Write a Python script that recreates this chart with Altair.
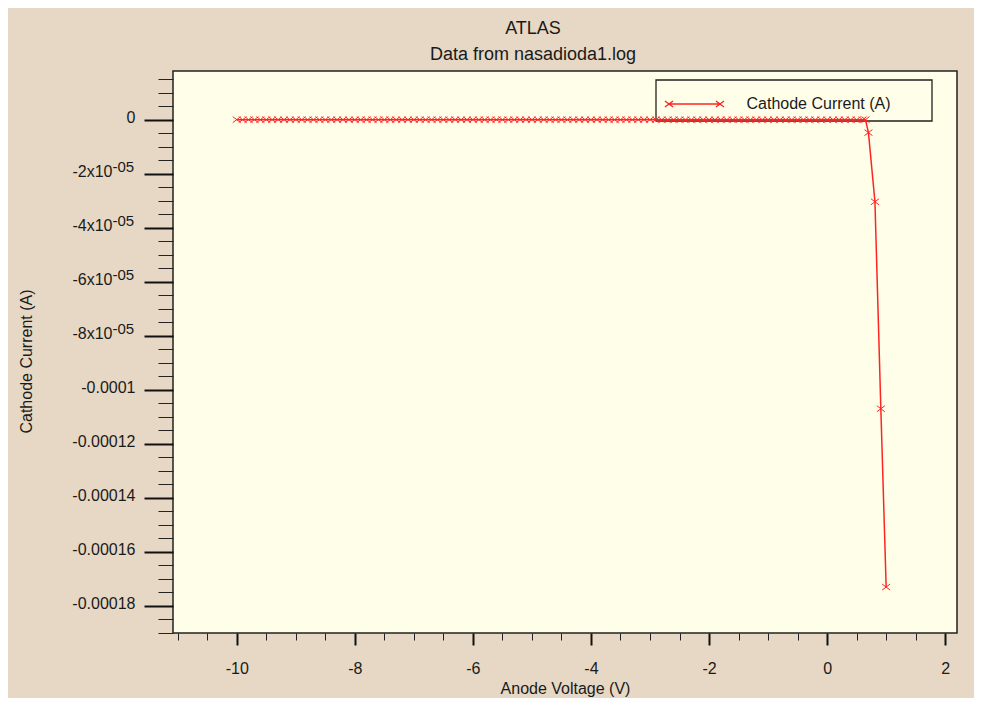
import altair as alt
import pandas as pd

# ---- data ----
voltage_flat = [
    -10.0, -9.9, -9.8, -9.7, -9.6, -9.5, -9.4, -9.3, -9.2, -9.1,
    -9.0, -8.9, -8.8, -8.7, -8.6, -8.5, -8.4, -8.3, -8.2, -8.1,
    -8.0, -7.9, -7.8, -7.7, -7.6, -7.5, -7.4, -7.3, -7.2, -7.1,
    -7.0, -6.9, -6.8, -6.7, -6.6, -6.5, -6.4, -6.3, -6.2, -6.1,
    -6.0, -5.9, -5.8, -5.7, -5.6, -5.5, -5.4, -5.3, -5.2, -5.1,
    -5.0, -4.9, -4.8, -4.7, -4.6, -4.5, -4.4, -4.3, -4.2, -4.1,
    -4.0, -3.9, -3.8, -3.7, -3.6, -3.5, -3.4, -3.3, -3.2, -3.1,
    -3.0, -2.9, -2.8, -2.7, -2.6, -2.5, -2.4, -2.3, -2.2, -2.1,
    -2.0, -1.9, -1.8, -1.7, -1.6, -1.5, -1.4, -1.3, -1.2, -1.1,
    -1.0, -0.9, -0.8, -0.7, -0.6, -0.5, -0.4, -0.3, -0.2, -0.1,
    0.0, 0.1, 0.2, 0.3, 0.4, 0.5, 0.6, 0.65,
]
current_flat = [0.0] * len(voltage_flat)

voltage_knee = [0.7, 0.81, 0.91, 1.0]
current_knee = [-4.8e-06, -3.04e-05, -1.07e-04, -1.73e-04]

series_name = "Cathode Current (A)"

x_major = [-10, -8, -6, -4, -2, 0, 2]
x_major_labels = ["-10", "-8", "-6", "-4", "-2", "0", "2"]
y_major = [0.0, -2e-05, -4e-05, -6e-05, -8e-05, -1e-04, -1.2e-04, -1.4e-04, -1.6e-04, -1.8e-04]
y_major_labels = ["0", "", "", "", "", "-0.0001", "-0.00012", "-0.00014", "-0.00016", "-0.00018"]
# scientific-notation labels: mantissa part and raised exponent part
y_sci = [-2e-05, -4e-05, -6e-05, -8e-05]
y_sci_mantissa = ["-2x10", "-4x10", "-6x10", "-8x10"]
y_sci_exponent = ["-05", "-05", "-05", "-05"]

x_domain = [-11.08, 2.2]
y_domain = [-1.9e-04, 1.8e-05]

# minor tick positions (axis styling)
x_minor = [v / 2 for v in range(-22, 5) if v % 4 != 0]
y_minor = [k * 5e-06 for k in range(-38, 4) if k % 4 != 0]

df = pd.DataFrame({
    "V": voltage_flat + voltage_knee,
    "I": current_flat + current_knee,
    "series": series_name,
})

FONT = "Liberation Sans"
RED = "#ff2424"
TXT = "#1a1a1a"
PLOT_BG = "#fffee9"


def lookup_expr(values, labels):
    e = "''"
    for v, lab in reversed(list(zip(values, labels))):
        e = f"abs(datum.value - ({v})) < 1e-12 ? '{lab}' : {e}"
    return e


xs = alt.Scale(domain=x_domain, nice=False, zero=False)
ys = alt.Scale(domain=y_domain, nice=False, zero=False)

legend_path = ("M-1.7,0L1.7,0"
               "M-1.97,-0.2L-1.43,0.2M-1.97,0.2L-1.43,-0.2"
               "M1.43,-0.2L1.97,0.2M1.43,0.2L1.97,-0.2")
marker_path = "M-1,-0.75L1,0.75M-1,0.75L1,-0.75"

base = alt.Chart(df)

# frame of the legend box (drawn beneath the data, as in the original)
legend_box = alt.Chart(pd.DataFrame({"box": [series_name]})).mark_rect(
    fill=PLOT_BG, stroke="#222", strokeWidth=1.3
).encode(
    x=alt.value(483), x2=alt.value(759), y=alt.value(9), y2=alt.value(50)
)

line = base.mark_line(strokeWidth=1.5, clip=True).encode(
    x=alt.X("V:Q", scale=xs, axis=alt.Axis(
        orient="bottom", values=x_major, labelExpr=lookup_expr(x_major, x_major_labels),
        tickSize=12, tickWidth=2,
        tickColor="#111", domain=False, grid=False, labelFontSize=16, labelFont=FONT,
        labelColor=TXT, labelPadding=15, title="Anode Voltage (V)", titleFont=FONT,
        titleFontSize=16, titleFontWeight="normal", titleColor=TXT, titleY=60,
        titleBaseline="alphabetic")),
    y=alt.Y("I:Q", scale=ys, axis=alt.Axis(
        orient="left", values=y_major, labelExpr=lookup_expr(y_major, y_major_labels),
        tickSize=29, tickWidth=2, tickColor="#111", domain=False, grid=False,
        labelFontSize=16, labelFont=FONT, labelColor=TXT, labelPadding=9, labelOffset=-2,
        title="Cathode Current (A)", titleFont=FONT, titleFontSize=16,
        titleFontWeight="normal", titleColor=TXT, titleX=-139, titleY=290,
        titleAngle=-90, titleBaseline="bottom")),
    color=alt.Color("series:N", scale=alt.Scale(range=[RED]), legend=alt.Legend(
        title=None, orient="none", legendX=483, legendY=9, symbolType=legend_path,
        symbolSize=900, symbolStrokeWidth=1.3, symbolOffset=14.5, labelOffset=36,
        labelFontSize=16, labelFont=FONT, labelColor=TXT, labelLimit=500, padding=8)),
)

points = base.mark_point(shape=marker_path, size=64, filled=False, strokeWidth=1,
                         opacity=1, clip=True, color=RED).encode(
    x=alt.X("V:Q", scale=xs, axis=alt.Axis(
        orient="bottom", values=x_minor, tickSize=7, tickWidth=1, tickColor="#222",
        labels=False, domain=False, grid=False, title=None)),
    y=alt.Y("I:Q", scale=ys, axis=alt.Axis(
        orient="left", values=y_minor, tickSize=15, tickWidth=1, tickColor="#222",
        labels=False, domain=False, grid=False, title=None)),
)

sci_mantissa = base.mark_line(opacity=0).encode(
    x=alt.X("V:Q", scale=xs, axis=None),
    y=alt.Y("I:Q", scale=ys, axis=alt.Axis(
        orient="left", values=y_sci, labelExpr=lookup_expr(y_sci, y_sci_mantissa),
        tickSize=29, tickOpacity=0, domain=False, grid=False, labelFontSize=16,
        labelFont=FONT, labelColor=TXT, labelPadding=32, labelOffset=-2, title=None)),
)

sci_exponent = base.mark_line(opacity=0).encode(
    x=alt.X("V:Q", scale=xs, axis=None),
    y=alt.Y("I:Q", scale=ys, axis=alt.Axis(
        orient="left", values=y_sci, labelExpr=lookup_expr(y_sci, y_sci_exponent),
        tickSize=29, tickOpacity=0, domain=False, grid=False, labelFontSize=15,
        labelFont=FONT, labelColor=TXT, labelPadding=32, labelAlign="left",
        labelOffset=-7, title=None)),
)

chart = alt.layer(legend_box, line, points, sci_mantissa, sci_exponent).resolve_axis(
    x="independent", y="independent"
).properties(
    width=784,
    height=562,
    autosize=alt.AutoSizeParams(type="none"),
    padding={"left": 165, "top": 63, "right": 17, "bottom": 65},
    background="#e6d8c4",
    title=alt.TitleParams(
        "ATLAS", subtitle="Data from nasadioda1.log", anchor="middle", frame="group",
        dx=-32, font=FONT, fontSize=18, fontWeight="normal", color=TXT,
        subtitleFont=FONT, subtitleFontSize=18, subtitleColor=TXT,
        subtitlePadding=8, offset=7),
).configure_view(
    fill=PLOT_BG, stroke="#222", strokeWidth=1.5,
)

chart.save("out.html", embed_options={"renderer": "svg", "actions": False})
